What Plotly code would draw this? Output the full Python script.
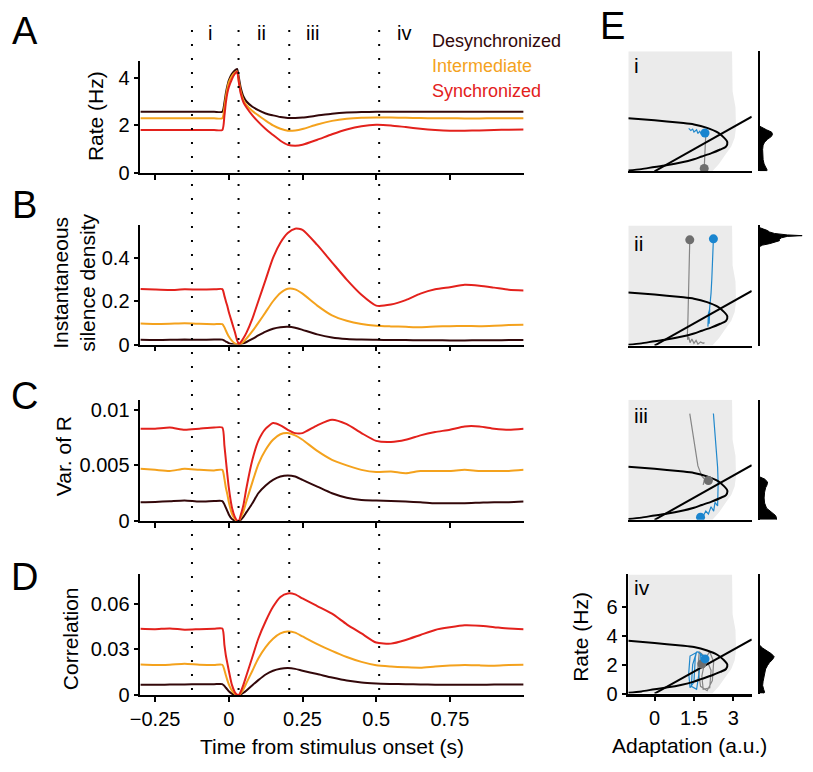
import plotly.graph_objects as go

# ---------------- data ----------------
time_s = [-0.30, -0.25, -0.20, -0.15, -0.10, -0.05, -0.022, -0.015, -0.01, -0.005,
          0.0, 0.01, 0.02, 0.028, 0.034, 0.04, 0.05, 0.06, 0.08, 0.10,
          0.125, 0.15, 0.175, 0.20, 0.225, 0.25, 0.30, 0.35, 0.40, 0.45,
          0.50, 0.55, 0.60, 0.65, 0.70, 0.75, 0.80, 0.85, 0.90, 0.95, 1.00]

rate_desync = [2.57, 2.57, 2.57, 2.57, 2.57, 2.57, 2.57,
               2.95, 3.35, 3.65, 3.88, 4.15, 4.30, 4.36, 4.00, 3.60, 3.20, 3.00, 2.78, 2.64,
               2.50, 2.42, 2.35, 2.31, 2.31, 2.33, 2.41, 2.49, 2.54, 2.56,
               2.57, 2.57, 2.57, 2.57, 2.57, 2.57, 2.57, 2.57, 2.57, 2.57, 2.57]
rate_inter = [2.30, 2.30, 2.30, 2.30, 2.30, 2.30, 2.30,
              2.75, 3.20, 3.55, 3.80, 4.05, 4.20, 4.26, 3.85, 3.45, 3.05, 2.85, 2.60, 2.42,
              2.20, 2.00, 1.86, 1.78, 1.79, 1.85, 2.04, 2.19, 2.28, 2.32,
              2.33, 2.33, 2.32, 2.31, 2.30, 2.30, 2.29, 2.29, 2.30, 2.30, 2.30]
rate_sync = [1.81, 1.81, 1.81, 1.81, 1.81, 1.81, 1.81,
             2.40, 2.95, 3.35, 3.60, 3.92, 4.15, 4.25, 3.80, 3.35, 2.95, 2.75, 2.42, 2.15,
             1.85, 1.60, 1.36, 1.19, 1.15, 1.19, 1.40, 1.63, 1.83, 1.97,
             2.03, 2.00, 1.93, 1.86, 1.81, 1.78, 1.78, 1.79, 1.81, 1.82, 1.83]

silence_desync = [0.022, 0.021, 0.022, 0.023, 0.022, 0.023, 0.023,
                  0.018, 0.014, 0.011, 0.007, 0.003, 0.001, 0.000, 0.000, 0.002, 0.006, 0.012, 0.026, 0.042,
                  0.060, 0.073, 0.080, 0.082, 0.078, 0.068, 0.047, 0.033, 0.026, 0.023,
                  0.022, 0.021, 0.021, 0.020, 0.020, 0.019, 0.019, 0.020, 0.020, 0.021, 0.021]
silence_inter = [0.097, 0.095, 0.096, 0.098, 0.096, 0.094, 0.094,
                 0.080, 0.065, 0.050, 0.037, 0.018, 0.006, 0.001, 0.000, 0.004, 0.013, 0.028, 0.062, 0.100,
                 0.150, 0.200, 0.238, 0.258, 0.255, 0.235, 0.180, 0.135, 0.110, 0.095,
                 0.087, 0.084, 0.082, 0.080, 0.083, 0.085, 0.086, 0.085, 0.087, 0.090, 0.092]
silence_sync = [0.257, 0.254, 0.252, 0.255, 0.254, 0.255, 0.256,
                0.225, 0.200, 0.178, 0.150, 0.105, 0.060, 0.020, 0.003, 0.010, 0.030, 0.055, 0.120, 0.200,
                0.300, 0.400, 0.470, 0.515, 0.535, 0.530, 0.460, 0.380, 0.300, 0.230,
                0.180, 0.185, 0.205, 0.235, 0.255, 0.265, 0.276, 0.272, 0.263, 0.253, 0.250]

var_desync = [0.00170, 0.00172, 0.00178, 0.00185, 0.00175, 0.00180, 0.00180,
              0.00150, 0.00120, 0.00090, 0.00060, 0.00020, 0.00005, 0.0, 0.0, 0.00010, 0.00040, 0.00080, 0.00160, 0.00250,
              0.00320, 0.00370, 0.00400, 0.00410, 0.00400, 0.00370, 0.00310, 0.00250, 0.00210, 0.00190,
              0.00185, 0.00180, 0.00175, 0.00170, 0.00160, 0.00160, 0.00160, 0.00165, 0.00170, 0.00170, 0.00175]
var_inter = [0.00470, 0.00460, 0.00450, 0.00470, 0.00460, 0.00455, 0.00460,
             0.00380, 0.00300, 0.00240, 0.00170, 0.00070, 0.00020, 0.0, 0.0, 0.00030, 0.00090, 0.00180, 0.00350, 0.00510,
             0.00640, 0.00730, 0.00780, 0.00790, 0.00770, 0.00730, 0.00630, 0.00550, 0.00500, 0.00460,
             0.00440, 0.00445, 0.00430, 0.00450, 0.00450, 0.00450, 0.00460, 0.00450, 0.00450, 0.00450, 0.00460]
var_sync = [0.00830, 0.00830, 0.00840, 0.00820, 0.00830, 0.00840, 0.00840,
            0.00680, 0.00550, 0.00420, 0.00300, 0.00130, 0.00040, 0.00005, 0.0, 0.00050, 0.00150, 0.00300, 0.00550, 0.00720,
            0.00830, 0.00880, 0.00860, 0.00820, 0.00790, 0.00790, 0.00860, 0.00910, 0.00870, 0.00790,
            0.00720, 0.00710, 0.00730, 0.00770, 0.00800, 0.00820, 0.00850, 0.00850, 0.00830, 0.00820, 0.00830]

corr_desync = [0.0068, 0.0067, 0.0069, 0.0070, 0.0071, 0.0071, 0.0072,
               0.0060, 0.0048, 0.0037, 0.0025, 0.0009, 0.0002, 0.0, 0.0, 0.0004, 0.0015, 0.0030, 0.0065, 0.0098,
               0.0135, 0.0160, 0.0173, 0.0177, 0.0172, 0.0160, 0.0138, 0.0115, 0.0095, 0.0082,
               0.0076, 0.0073, 0.0071, 0.0070, 0.0068, 0.0067, 0.0068, 0.0068, 0.0069, 0.0070, 0.0070]
corr_inter = [0.0201, 0.0198, 0.0199, 0.0206, 0.0199, 0.0198, 0.0199,
              0.0165, 0.0130, 0.0098, 0.0070, 0.0030, 0.0008, 0.0, 0.0, 0.0010, 0.0040, 0.0080, 0.0160, 0.0240,
              0.0315, 0.0370, 0.0405, 0.0418, 0.0410, 0.0385, 0.0335, 0.0290, 0.0250, 0.0218,
              0.0196, 0.0188, 0.0183, 0.0180, 0.0188, 0.0194, 0.0198, 0.0195, 0.0193, 0.0197, 0.0199]
corr_sync = [0.0435, 0.0433, 0.0438, 0.0430, 0.0433, 0.0436, 0.0437,
             0.0330, 0.0260, 0.0210, 0.0160, 0.0070, 0.0020, 0.0002, 0.0, 0.0020, 0.0070, 0.0130, 0.0250, 0.0370,
             0.0485, 0.0580, 0.0645, 0.0668, 0.0662, 0.0635, 0.0585, 0.0535, 0.0465, 0.0405,
             0.0345, 0.0338, 0.0362, 0.0395, 0.0428, 0.0445, 0.0458, 0.0455, 0.0446, 0.0437, 0.0433]

series_names = ["Desynchronized", "Intermediate", "Synchronized"]
epoch_times = [-0.125, 0.033, 0.205, 0.51]
epoch_labels = ["i", "ii", "iii", "iv"]
epoch_label_times = [-0.065, 0.11, 0.285, 0.595]

time_ticks = [-0.25, 0, 0.25, 0.5, 0.75]
time_ticktext = ["\u22120.25", "0", "0.25", "0.5", "0.75"]
rate_ticks = [0, 2, 4]
silence_ticks = [0, 0.2, 0.4]
var_ticks = [0, 0.005, 0.01]
var_ticktext = ["0", "0.005", "0.01"]
corr_ticks = [0, 0.03, 0.06]

# phase plane (panel E)
nullcline_a = [-1.0, 0.0, 1.0, 1.5, 2.0, 2.4, 2.62, 2.77, 2.72, 2.5, 2.17, 1.8, 1.5, 1.0, 0.5, 0.0, -0.5, -1.0]
nullcline_r = [3.65, 3.5, 3.33, 3.22, 2.98, 2.67, 2.35, 2.0, 1.7, 1.5, 1.25, 1.02, 0.83, 0.6, 0.43, 0.3, 0.15, 0.05]
adapt_line_a = [0.0, 3.7]
adapt_line_r = [0.0, 3.75]
shade_a = [-1.0, -1.0, 2.95, 2.97, 3.08, 3.1, 3.05, 2.92, 2.72, 2.45, 2.2, -1.0]
shade_r = [0.0, 8.25, 8.25, 5.5, 4.4, 3.0, 2.3, 1.7, 1.2, 0.5, 0.0, 0.0]

traj_gray_a = [
    [1.89, 1.90, 1.92, 1.94, 1.96, 1.97, 1.95],
    [1.34, 1.33, 1.31, 1.29, 1.27, 1.25, 1.26, 1.30, 1.35, 1.42, 1.50, 1.58, 1.65, 1.75, 1.85, 1.90],
    [1.34, 1.45, 1.55, 1.65, 1.80, 1.90, 1.85, 1.95, 2.00, 2.08, 2.00],
    [1.80, 2.10, 2.25, 2.20, 2.00, 1.75, 1.65, 1.70, 1.95, 2.15, 2.10, 1.85, 1.80, 1.95, 2.05],
]
traj_gray_r = [
    [0.2, 0.8, 1.5, 2.2, 2.7, 3.0, 2.6],
    [7.26, 6.0, 4.5, 3.0, 1.8, 0.8, 0.4, 0.6, 0.2, 0.45, 0.15, 0.35, 0.1, 0.25, 0.15, 0.2],
    [7.3, 6.0, 4.8, 3.7, 3.0, 2.8, 2.4, 2.9, 2.5, 2.75, 2.6],
    [2.05, 2.9, 2.2, 0.9, 0.2, 0.5, 1.8, 2.9, 2.5, 1.6, 0.4, 0.3, 1.2, 2.6, 2.1],
]
traj_blue_a = [
    [1.30, 1.38, 1.45, 1.50, 1.60, 1.65, 1.72, 1.78, 1.85, 1.90, 1.93],
    [2.24, 2.22, 2.18, 2.15, 2.10, 2.06, 2.03, 2.05, 2.10, 2.08],
    [2.24, 2.30, 2.36, 2.40, 2.42, 2.42, 2.40, 2.30, 2.25, 2.15, 2.05, 1.95, 1.85, 1.75],
    [1.92, 1.65, 1.35, 1.30, 1.35, 1.50, 1.55, 1.60, 1.45, 1.40, 1.60, 1.70, 1.75, 1.85, 1.92],
]
traj_blue_r = [
    [2.95, 2.8, 2.9, 2.7, 2.85, 2.6, 2.75, 2.55, 2.7, 2.5, 2.65],
    [7.33, 6.0, 4.6, 3.6, 2.6, 2.0, 1.3, 2.2, 2.5, 1.5],
    [7.3, 6.0, 4.8, 3.6, 2.5, 1.6, 0.95, 1.2, 0.6, 0.9, 0.4, 0.6, 0.25, 0.18],
    [2.4, 2.9, 2.6, 1.4, 0.4, 0.8, 2.5, 2.9, 2.0, 0.5, 0.3, 1.5, 2.8, 2.6, 2.4],
]
dot_gray = [(1.89, 0.2), (1.34, 7.26), (2.05, 2.7), (1.8, 2.05)]
dot_blue = [(1.92, 2.63), (2.24, 7.33), (1.75, 0.18), (1.92, 2.4)]

# rate histograms next to each phase plane
hist_rate = [
    [0.0, 0.1, 0.3, 0.5, 0.8, 1.1, 1.5, 1.8, 2.0, 2.2, 2.4, 2.55, 2.7, 2.85, 3.0, 3.1],
    [6.8, 6.9, 7.0, 7.1, 7.2, 7.3, 7.4, 7.5, 7.55, 7.6, 7.7, 7.8, 7.9, 8.0, 8.1],
    [0.0, 0.15, 0.3, 0.5, 0.8, 1.15, 1.5, 1.9, 2.2, 2.4, 2.6, 2.8, 2.95],
    [0.0, 0.1, 0.3, 0.57, 0.85, 1.13, 1.4, 1.7, 1.95, 2.15, 2.35, 2.55, 2.75, 2.95, 3.15, 3.35],
]
hist_count = [
    [7, 7.5, 6, 4.5, 3.5, 3, 3, 3.5, 5, 8, 12, 13, 12, 7, 2, 0],
    [0, 3, 10, 14, 20, 20, 22, 28, 43, 28, 15, 10, 8, 4, 0],
    [17, 17, 16, 12, 7, 5, 4.5, 5, 6, 7.5, 8, 5, 0],
    [4, 5, 4, 3, 3.5, 4.5, 5, 6, 8, 10, 13, 14.7, 12, 7, 3, 0],
]
phase_labels = ["i", "ii", "iii", "iv"]
phase_x_ticks = [0, 1.5, 3]
phase_x_ticktext = ["0", "1.5", "3"]
phase_y_ticks = [0, 2, 4, 6]

# ---------------- styling ----------------
W, H = 813, 772
def px(x):
    return x / W
def py(y):
    return 1 - y / H

FONT = "Liberation Sans, Arial, sans-serif"
C_DARK = "#33080a"
C_ORANGE = "#f4a21d"
C_RED = "#e3211c"
C_BLUE = "#2088cc"
C_GRAY = "#858585"
series_colors = [C_DARK, C_ORANGE, C_RED]

fig = go.Figure()

main_panels = [
    ("x", "y", [rate_desync, rate_inter, rate_sync]),
    ("x2", "y2", [silence_desync, silence_inter, silence_sync]),
    ("x3", "y3", [var_desync, var_inter, var_sync]),
    ("x4", "y4", [corr_desync, corr_inter, corr_sync]),
]
for xa, ya, vals in main_panels:
    for name, col, v in zip(series_names, series_colors, vals):
        fig.add_trace(go.Scatter(x=time_s, y=v, mode="lines", name=name, showlegend=False,
                                 line=dict(color=col, width=2, shape="spline", smoothing=0.6),
                                 xaxis=xa, yaxis=ya, hoverinfo="skip"))

for k in range(4):
    xa, ya = "x%d" % (5 + k), "y%d" % (5 + k)
    fig.add_trace(go.Scatter(x=shade_a, y=shade_r, mode="lines", fill="toself",
                             fillcolor="#ebebeb", line=dict(width=0), showlegend=False,
                             xaxis=xa, yaxis=ya, hoverinfo="skip"))
    fig.add_trace(go.Scatter(x=traj_gray_a[k], y=traj_gray_r[k], mode="lines",
                             line=dict(color=C_GRAY, width=1.2), showlegend=False,
                             xaxis=xa, yaxis=ya, hoverinfo="skip"))
    fig.add_trace(go.Scatter(x=traj_blue_a[k], y=traj_blue_r[k], mode="lines",
                             line=dict(color=C_BLUE, width=1.2), showlegend=False,
                             xaxis=xa, yaxis=ya, hoverinfo="skip"))
    fig.add_trace(go.Scatter(x=nullcline_a, y=nullcline_r, mode="lines",
                             line=dict(color="black", width=2, shape="spline", smoothing=0.8),
                             showlegend=False, xaxis=xa, yaxis=ya, hoverinfo="skip"))
    fig.add_trace(go.Scatter(x=adapt_line_a, y=adapt_line_r, mode="lines",
                             line=dict(color="black", width=2), showlegend=False,
                             xaxis=xa, yaxis=ya, hoverinfo="skip"))
    fig.add_trace(go.Scatter(x=[dot_gray[k][0]], y=[dot_gray[k][1]], mode="markers",
                             marker=dict(color="#6e6e6e", size=9), showlegend=False,
                             xaxis=xa, yaxis=ya, hoverinfo="skip"))
    fig.add_trace(go.Scatter(x=[dot_blue[k][0]], y=[dot_blue[k][1]], mode="markers",
                             marker=dict(color="#1a85cf", size=9), showlegend=False,
                             xaxis=xa, yaxis=ya, hoverinfo="skip"))
    hx, hy = "x%d" % (9 + k), "y%d" % (9 + k)
    fig.add_trace(go.Scatter(x=hist_count[k], y=hist_rate[k], mode="lines", fill="tozerox",
                             fillcolor="black", line=dict(color="black", width=1),
                             showlegend=False, xaxis=hx, yaxis=hy, hoverinfo="skip"))

tickfont = dict(family=FONT, size=20, color="black")
base_axis = dict(showgrid=False, zeroline=False, showline=True, linecolor="black", linewidth=1.6,
                 ticks="outside", ticklen=5, tickwidth=1.5, tickcolor="black", tickfont=tickfont)

xdom_main = [px(132), px(520)]
ydoms_main = [(175, 61), (349, 228), (528.3, 405), (705, 582)]
yranges_main = [[0, 4.69], [0, 0.55], [0, 0.0109], [0, 0.0796]]
yticks_main = [(rate_ticks, ["0", "2", "4"]), (silence_ticks, ["0", "0.2", "0.4"]),
               (var_ticks, var_ticktext), (corr_ticks, ["0", "0.03", "0.06"])]

layout = dict(width=W, height=H, margin=dict(l=0, r=0, t=0, b=0),
              paper_bgcolor="white", plot_bgcolor="rgba(0,0,0,0)", showlegend=False,
              font=dict(family=FONT, color="black"))

for i in range(4):
    sx = "" if i == 0 else str(i + 1)
    layout["xaxis" + sx] = dict(base_axis, domain=xdom_main, range=[-0.3, 1.0], anchor="y" + sx,
                                tickvals=time_ticks, ticktext=time_ticktext,
                                showticklabels=(i == 3))
    yb, yt = ydoms_main[i]
    layout["yaxis" + sx] = dict(base_axis, domain=[py(yb), py(yt)], range=yranges_main[i],
                                anchor="x" + sx, tickvals=yticks_main[i][0], ticktext=yticks_main[i][1])

ydoms_e = [(173, 51), (350, 228), (527, 405), (703.5, 582.5)]
for k in range(4):
    n = 5 + k
    yb, yt = ydoms_e[k]
    if k < 3:
        layout["xaxis%d" % n] = dict(showgrid=False, zeroline=False, showline=True, linecolor="black",
                                     linewidth=2, ticks="", showticklabels=False,
                                     domain=[px(626), px(751)], range=[-1, 3.7], anchor="y%d" % n)
        layout["yaxis%d" % n] = dict(showgrid=False, zeroline=False, showline=False, ticks="",
                                     showticklabels=False, domain=[py(yb), py(yt)], range=[0, 8.25],
                                     anchor="x%d" % n)
    else:
        layout["xaxis%d" % n] = dict(base_axis, linewidth=2.5, domain=[px(626), px(751)], range=[-1, 3.7],
                                     anchor="y%d" % n, tickvals=phase_x_ticks, ticktext=phase_x_ticktext)
        layout["yaxis%d" % n] = dict(base_axis, domain=[py(yb), py(yt)], range=[0, 8.25],
                                     anchor="x%d" % n, tickvals=phase_y_ticks)
    h = 9 + k
    layout["xaxis%d" % h] = dict(visible=False, domain=[px(759), px(806)], range=[0, 47], anchor="y%d" % h)
    layout["yaxis%d" % h] = dict(showgrid=False, zeroline=False, showline=True, linecolor="black",
                                 linewidth=1.6, ticks="", showticklabels=False,
                                 domain=[py(yb), py(yt)], range=[0, 8.25], anchor="x%d" % h)

fig.update_layout(**layout)

# dotted epoch lines spanning panels A-D
for t in epoch_times:
    fig.add_shape(type="line", xref="x", yref="paper", x0=t, x1=t, y0=py(700), y1=py(26),
                  line=dict(color="black", width=2, dash="2px,12px"), layer="above")

ann = []
def text(x, y, s, size, color="black", xanchor="center", angle=0, xref="paper"):
    ann.append(dict(x=x, y=y, xref=xref, yref="paper", text=s, showarrow=False,
                    xanchor=xanchor, yanchor="middle", textangle=angle,
                    font=dict(family=FONT, size=size, color=color)))

for lab, (x0, y0) in zip(["A", "B", "C", "D", "E"],
                         [(15, 30), (15, 207), (15, 401), (15, 585), (610, 25)]):
    text(px(x0), py(y0), lab, 38)

for t, lab in zip(epoch_label_times, epoch_labels):
    text(t, py(33), lab, 20, xref="x")

for name, col, yy in zip(series_names, series_colors, [41, 66, 91]):
    text(px(425), py(yy), name, 18, color=col, xanchor="left")

text(px(86), py(117), "Rate (Hz)", 21, angle=-90)
text(px(64), py(286), "Instantaneous<br>silence density", 21, angle=-90)
text(px(54), py(462), "Var. of R", 21, angle=-90)
text(px(62), py(648), "Correlation", 21, angle=-90)
text(px(326), py(757), "Time from stimulus onset (s)", 21)

for lab, yy in zip(phase_labels, [66, 246, 421, 596]):
    text(px(630), py(yy), lab, 21, xanchor="left")

text(px(578), py(646), "Rate (Hz)", 21, angle=-90)
text(px(688), py(756), "Adaptation (a.u.)", 21)

fig.update_layout(annotations=ann)
fig.write_html("out.html", config={"displayModeBar": False},
               post_script="document.body.style.margin='0px';")
